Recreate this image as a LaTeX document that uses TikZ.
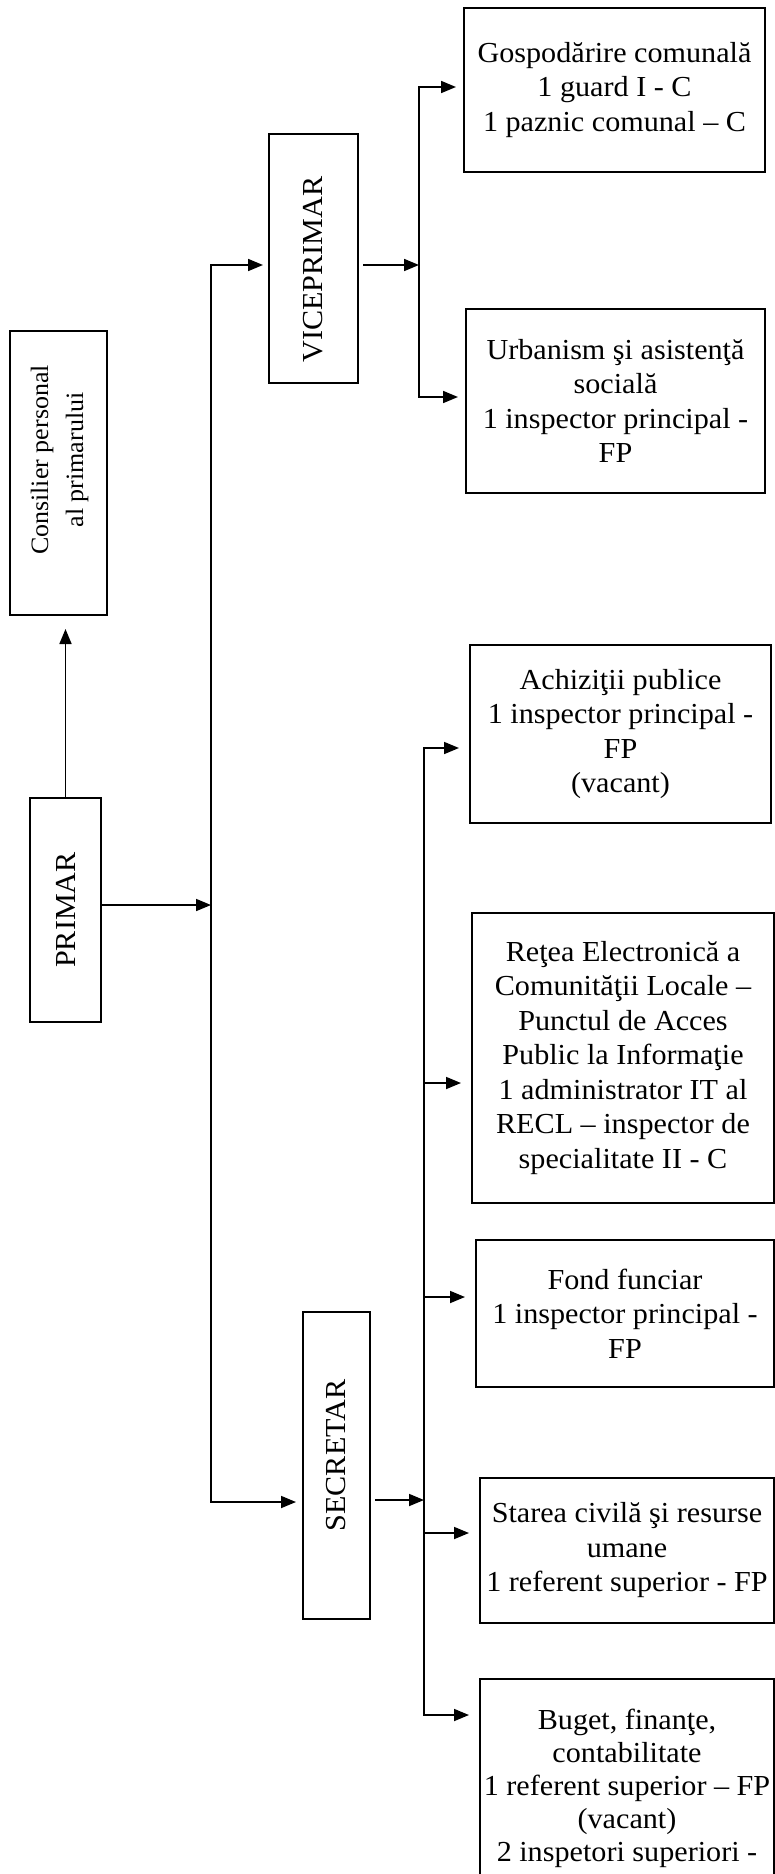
\documentclass[tikz,border=0pt]{standalone}
\usepackage{fontspec}
\setmainfont{Liberation Serif}[FakeStretch=1.04]
\usepackage{graphicx}
\usetikzlibrary{arrows.meta,calc}
\newcommand{\boxfont}{\fontsize{29pt}{34.5pt}\selectfont}
\newcommand{\consfont}{\fontsize{25pt}{35pt}\selectfont}
\tikzset{
  box/.style={draw, line width=2pt, inner sep=1pt, align=center, font=\boxfont},
  conn/.style={line width=1.7pt},
  arr/.style={conn, -{Triangle[length=15pt,width=12pt]}},
}
\begin{document}
\begin{tikzpicture}[x=1pt,y=-1pt]
\useasboundingbox (0,0) rectangle (775,1874);
\clip (0,0) rectangle (775,1874);
\fill[white] (0,0) rectangle (775,1874);

% left column
\node[box, minimum width=97pt, minimum height=284pt] (cons) at (58.5,473)
  {\rotatebox{90}{\consfont\kern26pt\begin{tabular}{@{}c@{}}Consilier personal\\al primarului\end{tabular}}};
\node[box, minimum width=71pt, minimum height=224pt] (primar) at (65.5,910)
  {\rotatebox{90}{PRIMAR}};

% middle column
\node[box, minimum width=89pt, minimum height=249pt] (vice) at (313.5,258.5)
  {\rotatebox{90}{VICEPRIMAR\kern22pt}};
\node[box, minimum width=67pt, minimum height=307pt] (secr) at (336.5,1465.5)
  {\rotatebox{90}{\kern20pt SECRETAR}};

% right column
\node[box, minimum width=301pt, minimum height=164pt] (gosp) at (614.5,90)
  {Gospodărire comunală\\1 guard I - C\\1 paznic comunal – C};
\node[box, minimum width=299pt, minimum height=184pt] (urb) at (615.5,401)
  {Urbanism şi asistenţă\\socială\\1 inspector principal -\\FP};
\node[box, minimum width=301pt, minimum height=178pt] (achiz) at (620.5,734)
  {Achiziţii publice\\1 inspector principal -\\FP\\(vacant)};
\node[box, minimum width=302pt, minimum height=290pt] (retea) at (623,1058)
  {Reţea Electronică a\\Comunităţii Locale –\\Punctul de Acces\\Public la Informaţie\\1 administrator IT al\\RECL – inspector de\\specialitate II - C};
\node[box, minimum width=298pt, minimum height=147pt] (fond) at (625,1313.5)
  {Fond funciar\\1 inspector principal -\\FP};
\node[box, minimum width=294pt, minimum height=145pt] (starea) at (627,1550.5)
  {Starea civilă şi resurse\\umane\\1 referent superior - FP};
\node[box, minimum width=294pt, minimum height=300pt] (buget) at (627,1829) {};
\node[anchor=north, align=center, font=\fontsize{29pt}{33pt}\selectfont, inner sep=0pt] (bugt) at (627,1709)
  {Buget, finanţe,\\contabilitate\\1 referent superior – FP\\(vacant)\\2 inspetori superiori -};

% connectors
\draw[arr, shorten >=13pt] (primar.north) -- (primar.north |- cons.south);

\coordinate (lbus) at (211,905);
\draw[arr] ([yshift=5pt]primar.east) -- (lbus);
\draw[arr, shorten >=5pt] (lbus) |- ([yshift=-6.5pt]vice.west);
\draw[arr, shorten >=6pt] (lbus) |- ([yshift=-36.5pt]secr.west);

\coordinate (vbus) at (419,265);
\draw[arr, shorten <=4pt] ([yshift=-6.5pt]vice.east) -- (vbus);
\draw[arr, shorten >=7pt] (vbus) |- ([yshift=3pt]gosp.west);
\draw[arr, shorten >=7pt] (vbus) |- ([yshift=4pt]urb.west);

\coordinate (sbus) at (424,1500);
\draw[arr, shorten <=4pt] ([yshift=-34.5pt]secr.east) -- (sbus);
\draw[arr, shorten >=10pt] (sbus) |- ([yshift=-14pt]achiz.west);
\draw[arr, shorten >=10pt] (sbus) |- ([yshift=-25pt]retea.west);
\draw[arr, shorten >=10pt] (sbus) |- ([yshift=16.5pt]fond.west);
\draw[arr, shorten >=10pt] (sbus) |- ([yshift=17.5pt]starea.west);
\draw[arr, shorten >=10pt] (sbus) |- ([yshift=114pt]buget.west);
\end{tikzpicture}
\end{document}
